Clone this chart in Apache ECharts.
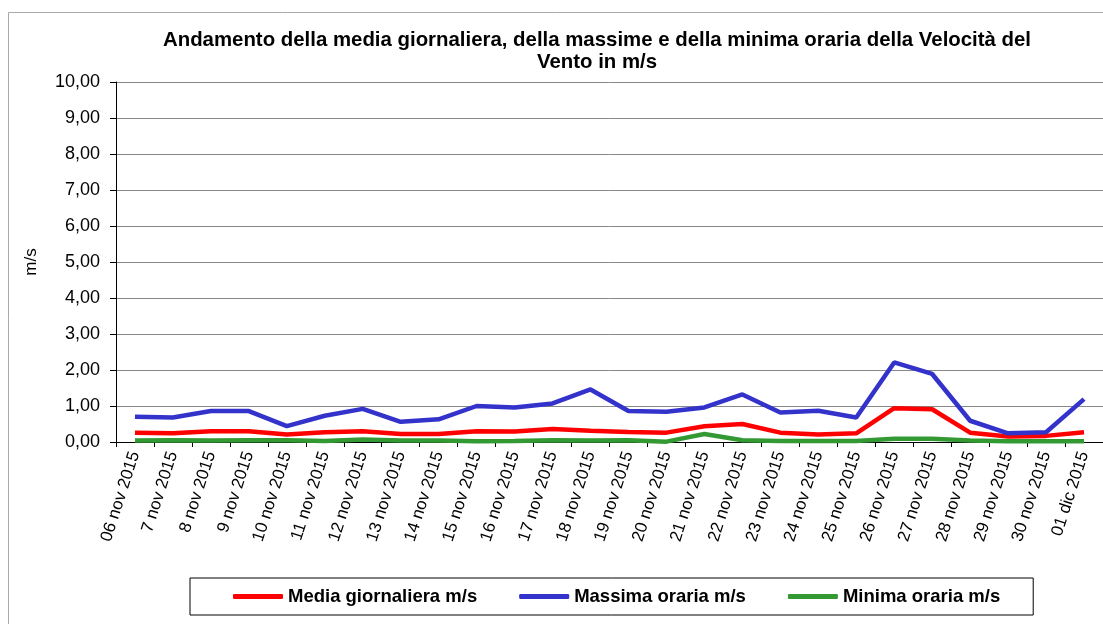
<!DOCTYPE html>
<html>
<head>
<meta charset="utf-8">
<script src="https://cdn.jsdelivr.net/npm/echarts@6/dist/echarts.min.js"></script>
<style>
    html, body { margin: 0; padding: 0; background: #fff; }
    #chart { width: 1103px; height: 624px; }
</style>
</head>
<body>
<div id="chart"></div>
<script>
// giorni
var giorni = ['06 nov 2015', '7 nov 2015', '8 nov 2015', '9 nov 2015', '10 nov 2015', '11 nov 2015',
    '12 nov 2015', '13 nov 2015', '14 nov 2015', '15 nov 2015', '16 nov 2015', '17 nov 2015',
    '18 nov 2015', '19 nov 2015', '20 nov 2015', '21 nov 2015', '22 nov 2015', '23 nov 2015',
    '24 nov 2015', '25 nov 2015', '26 nov 2015', '27 nov 2015', '28 nov 2015', '29 nov 2015',
    '30 nov 2015', '01 dic 2015'];

// valori in m/s
var media = [0.26, 0.24, 0.30, 0.30, 0.21, 0.27, 0.30, 0.22, 0.22, 0.30, 0.29, 0.36, 0.31,
    0.28, 0.26, 0.44, 0.50, 0.26, 0.21, 0.24, 0.94, 0.91, 0.26, 0.15, 0.17, 0.27];
var massima = [0.70, 0.68, 0.86, 0.86, 0.44, 0.73, 0.92, 0.56, 0.63, 1.00, 0.96, 1.07, 1.46,
    0.86, 0.84, 0.96, 1.32, 0.82, 0.87, 0.68, 2.21, 1.89, 0.59, 0.24, 0.27, 1.19];
var minima = [0.04, 0.05, 0.04, 0.05, 0.05, 0.03, 0.07, 0.04, 0.04, 0.02, 0.03, 0.05, 0.04,
    0.05, 0.01, 0.22, 0.05, 0.03, 0.03, 0.03, 0.09, 0.09, 0.04, 0.02, 0.02, 0.02];

var font = '"Liberation Sans", Arial, sans-serif';

var myChart = echarts.init(document.getElementById('chart'));

// serie
function linea(nome, colore, dati) {
    return {
        name: nome,
        type: 'line',
        data: dati,
        showSymbol: false,
        symbol: 'none',
        itemStyle: { color: colore },
        lineStyle: { color: colore, width: 4.5 }
    };
}

var option = {
    animation: false,
    textStyle: { fontFamily: font },
    title: {
        text: 'Andamento della media giornaliera, della massime e della minima oraria della Velocità del\nVento in m/s',
        left: 592,
        textAlign: 'center',
        top: 24,
        textStyle: { fontSize: 20.4, fontWeight: 'bold', color: '#000', lineHeight: 22, fontFamily: font }
    },
    graphic: [{
        type: 'rect',
        shape: { x: 8.5, y: 12.5, width: 1110, height: 640 },
        style: { fill: 'none', stroke: '#aaa', lineWidth: 1 },
        silent: true
    }],
    legend: {
        bottom: 9,
        left: 190,
        padding: [9, 33, 9, 43],
        itemGap: 42,
        itemWidth: 50,
        itemHeight: 5,
        icon: 'roundRect',
        borderColor: '#000',
        borderWidth: 1,
        selectedMode: false,
        textStyle: { fontSize: 18.5, fontWeight: 'bold', color: '#000', fontFamily: font },
        data: ['Media giornaliera m/s', 'Massima oraria m/s', 'Minima oraria m/s']
    },
    grid: {
        left: 116,
        top: 82,
        bottom: 182,
        right: -4
    },
    xAxis: {
        type: 'category',
        boundaryGap: true,
        data: giorni,
        axisLine: { lineStyle: { color: '#000', width: 1 } },
        axisTick: { show: true, interval: 0, length: 5, lineStyle: { color: '#000' } },
        axisLabel: {
            interval: 0,
            rotate: 72,
            margin: 10,
            fontSize: 17,
            color: '#000',
            fontFamily: font
        },
        splitLine: { show: false }
    },
    yAxis: {
        type: 'value',
        min: 0,
        max: 10,
        interval: 1,
        name: 'm/s',
        nameLocation: 'middle',
        nameGap: 76,
        nameRotate: 90,
        nameTextStyle: { fontSize: 17, color: '#000', fontFamily: font },
        axisLine: { show: true, lineStyle: { color: '#000', width: 1 } },
        axisTick: { show: true, length: 6, lineStyle: { color: '#000' } },
        axisLabel: {
            margin: 16,
            fontSize: 18,
            color: '#000',
            fontFamily: font,
            formatter: function (v) { return v.toFixed(2).replace('.', ','); }
        },
        splitLine: { show: true, lineStyle: { color: '#888', width: 1 } }
    },
    series: [
        linea('Media giornaliera m/s', '#ff0000', media),
        linea('Massima oraria m/s', '#3333cc', massima),
        linea('Minima oraria m/s', '#339933', minima)
    ]
};

myChart.setOption(option);
</script>
</body>
</html>
